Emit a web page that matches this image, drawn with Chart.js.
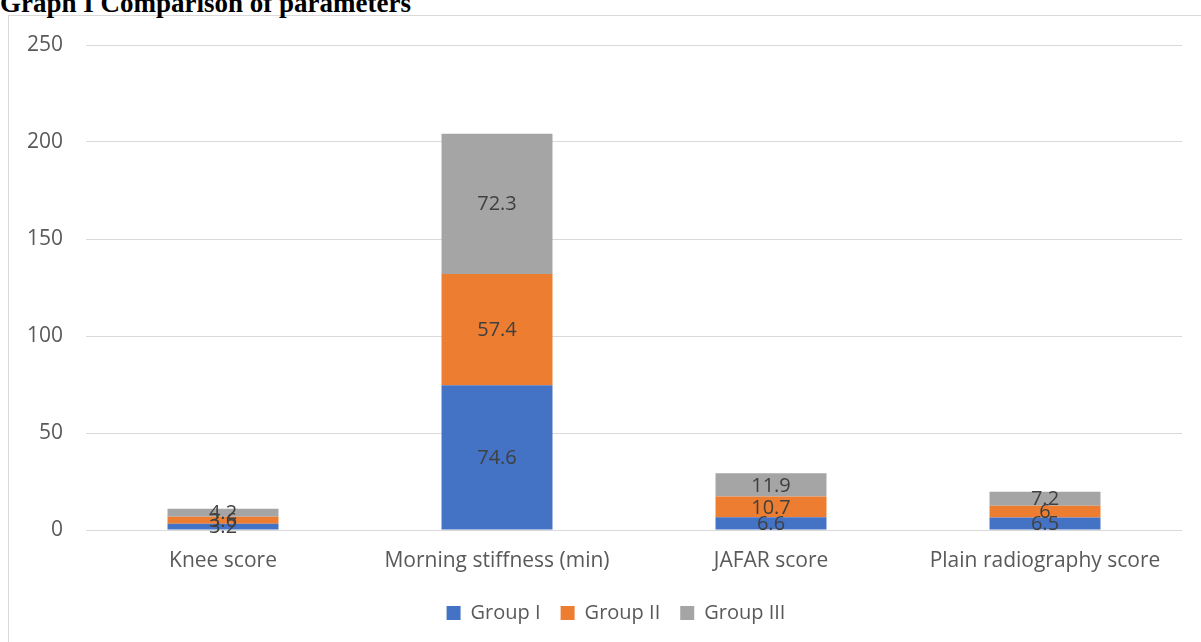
<!DOCTYPE html>
<html>
<head>
<meta charset="utf-8">
<script src="https://cdn.jsdelivr.net/npm/chart.js@4"></script>
<style>
  html, body { margin: 0; padding: 0; background: #fff; width: 1201px; height: 642px; overflow: hidden; }
  #title { position: absolute; left: 0; top: -12px; font: bold 27px "Liberation Serif", "Times New Roman", serif; color: #000; white-space: nowrap; }
  #frame { position: absolute; left: 8px; top: 15px; width: 1200px; height: 640px; border: 1px solid #d9d9d9; box-sizing: border-box; }
  #wrap { position: absolute; left: 0; top: 0; width: 1201px; height: 642px; }
</style>
</head>
<body>
<div id="frame"></div>
<div id="title">Graph I Comparison of parameters</div>
<div id="wrap"><canvas id="chart" width="1201" height="642"></canvas></div>
<script>
// ---- data ----
const categories = ['Knee score', 'Morning stiffness (min)', 'JAFAR score', 'Plain radiography score'];
const groupI   = [3.2, 74.6, 6.6, 6.5];
const groupII  = [3.6, 57.4, 10.7, 6];
const groupIII = [4.2, 72.3, 11.9, 7.2];
const yTicks   = [0, 50, 100, 150, 200, 250];

const FONT = '"Open Sans", "Noto Sans", sans-serif';

// labels in the middle of each stacked segment (Excel style)
const segmentLabels = {
  id: 'segmentLabels',
  afterLayout(chart) {
    // Excel centres the legend a bit right of the canvas middle
    if (chart.legend) { chart.legend.left += 21; chart.legend.right += 21; }
  },
  afterDatasetsDraw(chart) {
    const ctx = chart.ctx;
    ctx.save();
    ctx.font = '20px ' + FONT;
    ctx.fillStyle = '#404040';
    ctx.textAlign = 'center';
    ctx.textBaseline = 'middle';
    chart.data.datasets.forEach((ds, i) => {
      const meta = chart.getDatasetMeta(i);
      meta.data.forEach((bar, j) => {
        const p = bar.getProps(['x', 'y', 'base'], true);
        ctx.fillText(String(ds.data[j]), p.x, (p.y + p.base) / 2 + 1);
      });
    });
    ctx.restore();
  }
};

new Chart(document.getElementById('chart'), {
  type: 'bar',
  data: {
    labels: categories,
    datasets: [
      { label: 'Group I',   data: groupI,   backgroundColor: '#4472c4' },
      { label: 'Group II',  data: groupII,  backgroundColor: '#ed7d31' },
      { label: 'Group III', data: groupIII, backgroundColor: '#a5a5a5' },
    ],
  },
  options: {
    responsive: false,
    animation: false,
    events: [],
    datasets: { bar: { categoryPercentage: 1, barPercentage: 0.405, borderWidth: 0 } },
    layout: { padding: { left: 8, right: 19, top: 45, bottom: 9 } },
    scales: {
      x: {
        stacked: true,
        grid: { display: false },
        border: { display: false },
        ticks: { color: '#595959', font: { family: FONT, size: 21 }, padding: 10, maxRotation: 0, autoSkip: false },
        afterFit(s) { s.height = 53; },
      },
      y: {
        stacked: true,
        min: 0, max: 250,
        afterBuildTicks(s) { s.ticks = yTicks.map(v => ({ value: v })); },
        grid: { color: '#d9d9d9', drawTicks: false, lineWidth: 1 },
        border: { display: false },
        ticks: { color: '#595959', font: { family: FONT, size: 21 }, padding: 23 },
        afterFit(s) { s.width = 78; },
      },
    },
    plugins: {
      legend: {
        position: 'bottom',
        labels: { color: '#595959', font: { family: FONT, size: 20 }, boxWidth: 14, boxHeight: 14, padding: 20 },
      },
      tooltip: { enabled: false },
    },
  },
  plugins: [segmentLabels],
});
</script>
</body>
</html>
